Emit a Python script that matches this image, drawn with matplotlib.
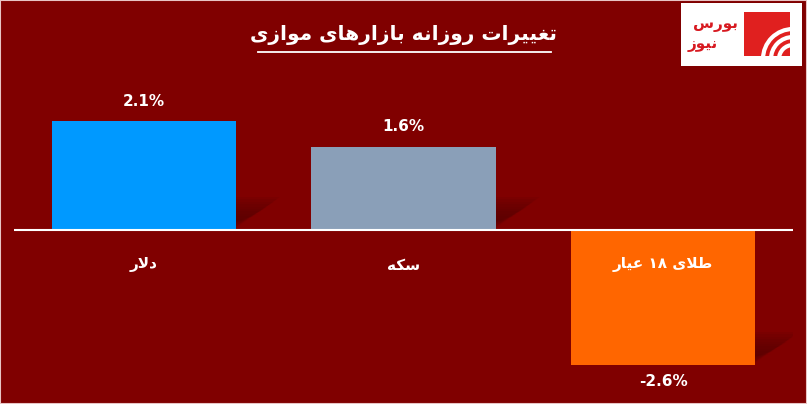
import numpy as np
import matplotlib
matplotlib.use("Agg")
import matplotlib.pyplot as plt
from matplotlib.patches import Polygon, Rectangle, Arc

# data
categories = ["دلار", "سکه", "طلای ۱۸ عیار"]
values = [2.1, 1.6, -2.6]
value_labels = ["2.1%", "1.6%", "-2.6%"]
bar_colors = ["#0099ff", "#8a9fb8", "#ff6600"]
title = "تغییرات روزانه بازارهای موازی"
logo_words = ["بورس", "نیوز"]

BG = "#800000"

# minimal arabic/persian shaping (matplotlib has no shaping or bidi)
FORMS = {  # isolated, final, initial, medial
    "ا": ("\uFE8D", "\uFE8E", None, None),
    "ب": ("\uFE8F", "\uFE90", "\uFE91", "\uFE92"),
    "ت": ("\uFE95", "\uFE96", "\uFE97", "\uFE98"),
    "د": ("\uFEA9", "\uFEAA", None, None),
    "ر": ("\uFEAD", "\uFEAE", None, None),
    "ز": ("\uFEAF", "\uFEB0", None, None),
    "س": ("\uFEB1", "\uFEB2", "\uFEB3", "\uFEB4"),
    "ط": ("\uFEC1", "\uFEC2", "\uFEC3", "\uFEC4"),
    "ع": ("\uFEC9", "\uFECA", "\uFECB", "\uFECC"),
    "غ": ("\uFECD", "\uFECE", "\uFECF", "\uFED0"),
    "ل": ("\uFEDD", "\uFEDE", "\uFEDF", "\uFEE0"),
    "م": ("\uFEE1", "\uFEE2", "\uFEE3", "\uFEE4"),
    "ن": ("\uFEE5", "\uFEE6", "\uFEE7", "\uFEE8"),
    "ه": ("\uFEE9", "\uFEEA", "\uFEEB", "\uFEEC"),
    "و": ("\uFEED", "\uFEEE", None, None),
    "ی": ("\uFBFC", "\uFBFD", "\uFBFE", "\uFBFF"),
    "ک": ("\uFB8E", "\uFB8F", "\uFB90", "\uFB91"),
}


def dual(c):
    return c in FORMS and FORMS[c][2] is not None


def shape(s):
    out = []
    i = 0
    while i < len(s):
        c = s[i]
        if c not in FORMS:
            out.append(c)
            i += 1
            continue
        prev_join = i > 0 and dual(s[i - 1])
        if c == "ل" and i + 1 < len(s) and s[i + 1] == "ا":
            out.append("\uFEFC" if prev_join else "\uFEFB")
            i += 2
            continue
        next_join = dual(c) and i + 1 < len(s) and s[i + 1] in FORMS
        iso, fin, ini, med = FORMS[c]
        if prev_join and next_join:
            out.append(med)
        elif prev_join:
            out.append(fin)
        elif next_join:
            out.append(ini)
        else:
            out.append(iso)
        i += 1
    # visual order: reverse, keep digit runs left to right
    rev = "".join(out)[::-1]
    res, run = "", ""
    for ch in rev:
        if ch.isdigit():
            run += ch
        else:
            res += run[::-1] + ch
            run = ""
    return res + run[::-1]


W, H = 807, 404
fig = plt.figure(figsize=(W / 100, H / 100), dpi=100, facecolor=BG)

# baseline at y=230px from top, 51.9 px per 1%
ppu = 51.9
ax = fig.add_axes([14 / W, 0, 779 / W, 1])
ax.set_facecolor(BG)
ax.set_xlim(-0.5, 2.5)
ax.set_ylim(-(H - 230) / ppu, 230 / ppu)
ax.axis("off")

x = np.arange(len(categories))
bars = ax.bar(x, values, width=0.71, color=bar_colors, zorder=3)
ax.axhline(0, color="white", lw=1.5, zorder=4)

# soft shadows to the right of each bar's lower end
inv = ax.transData.inverted()
for b, v in zip(bars, values):
    xr = b.get_x() + b.get_width()
    yb = min(0, v)
    px, py = ax.transData.transform((xr, yb))
    for k in range(10):
        s = 1.1 - k * 0.08
        verts = np.array([
            (px, py + 2 + (1.1 - s) * 10),
            (px, py + 30 * s),
            (px + 40 * s, py + 30 * s),
        ])
        poly = Polygon(inv.transform(verts), closed=True, facecolor="#550000",
                       edgecolor="none", alpha=0.12, zorder=2)
        ax.add_patch(poly)

# value labels
for b, v, lab in zip(bars, values, value_labels):
    off = 20 if v > 0 else -17
    ax.annotate(lab, (b.get_x() + b.get_width() / 2, v), xytext=(0, off),
                textcoords="offset pixels", ha="center", va="center",
                color="white", fontsize=11, fontweight="bold", zorder=5)

# category labels, just below the axis line
for xi, cat in zip(x, categories):
    ax.annotate(shape(cat), (xi, 0), xytext=(0, -35), textcoords="offset pixels",
                ha="center", va="center", color="white", fontsize=11,
                fontweight="bold", family="DejaVu Sans", zorder=5)

# title with underline
fig.text(404 / W, 1 - 35 / H, shape(title), ha="center", va="center",
         color="white", fontsize=14.5, fontweight="bold", family="DejaVu Sans")
fig.add_artist(plt.Line2D([258 / W, 551 / W], [1 - 52 / H, 1 - 52 / H],
                          color="white", lw=1.3))

# logo box
lax = fig.add_axes([681 / W, 1 - 66 / H, 121 / W, 63 / H])
lax.set_xlim(0, 121)
lax.set_ylim(63, 0)
lax.set_facecolor("white")
lax.set_xticks([])
lax.set_yticks([])
for sp in lax.spines.values():
    sp.set_visible(False)
lax.add_patch(Rectangle((63, 9), 46, 44, facecolor="#e0201f", edgecolor="none"))
for r, lw in [(14, 3), (22, 3), (30, 3)]:
    lax.add_patch(Arc((112, 56), 2 * r, 2 * r, theta1=180, theta2=270,
                      color="white", lw=lw))
lax.text(34, 22, shape(logo_words[0]), ha="center", va="center",
         color="#d71920", fontsize=11, fontweight="bold")
lax.text(22, 42, shape(logo_words[1]), ha="center", va="center",
         color="#d71920", fontsize=11, fontweight="bold")

# thin light frame around the picture
fig.add_artist(Rectangle((0, 0), 1, 1, transform=fig.transFigure, fill=False,
                         edgecolor="#e8c4c4", lw=1.5))

fig.savefig("out.png", dpi=100, facecolor=BG)
